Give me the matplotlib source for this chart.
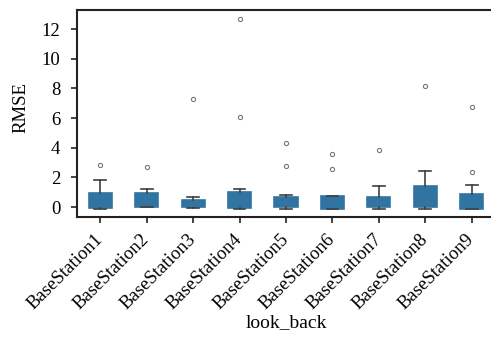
import matplotlib as mpl
mpl.use('Agg')
import matplotlib.pyplot as plt
import matplotlib.transforms as mtransforms

plt.rcParams['font.family'] = ['Liberation Serif', 'DejaVu Serif']

stations = ['BaseStation%d' % i for i in range(1, 10)]
# box stats
q1 = [-0.05, 0.02, -0.02, -0.07, 0.02, -0.13, -0.02, -0.02, -0.13]
q3 = [0.92, 0.92, 0.47, 0.99, 0.69, 0.74, 0.67, 1.42, 0.88]
med = [0.15, 0.2, 0.1, 0.2, 0.2, 0.1, 0.15, 0.3, 0.2]
whislo = [-0.1, 0.0, -0.07, -0.1, -0.11, -0.13, -0.13, -0.11, -0.13]
whishi = [1.82, 1.23, 0.7, 1.23, 0.8, 0.74, 1.39, 2.45, 1.48]
fliers = [[2.85], [2.72], [7.28], [12.66, 6.09], [4.34, 2.79],
          [3.57, 2.54], [3.82], [8.18], [6.74, 2.34]]

stats = []
for i, name in enumerate(stations):
  stats.append(dict(label=name, q1=q1[i], q3=q3[i], med=med[i],
                    whislo=whislo[i], whishi=whishi[i], fliers=fliers[i]))

fig = plt.figure(figsize=(4.91, 3.42), dpi=100)
ax = fig.add_axes([0.157, 0.3655, 0.851, 0.605])

box_c = '#3274a1'
line_c = '#3f3f3f'
ax.bxp(stats, positions=range(len(stations)), widths=0.5, patch_artist=True,
       boxprops=dict(facecolor=box_c, edgecolor=box_c, linewidth=1.2),
       medianprops=dict(color=box_c, linewidth=1.2),
       whiskerprops=dict(color=line_c, linewidth=1.2),
       capprops=dict(color=line_c, linewidth=1.2),
       flierprops=dict(marker='o', markersize=3, markerfacecolor='none',
                       markeredgecolor='#777777', markeredgewidth=0.8))

ax.set_xlim(-0.5, 8.5)
ax.set_ylim(-0.67, 13.28)
ax.set_yticks([0, 2, 4, 6, 8, 10, 12])
ax.set_xticks(range(len(stations)))
ax.set_xticklabels(stations, rotation=45, ha='right', fontsize=13.5)
ax.tick_params(axis='y', labelsize=13.5, pad=8)
ax.tick_params(axis='x', pad=6)
ax.tick_params(width=1.2, length=4, color='#222222')
shift = mtransforms.ScaledTranslation(0.06, 0, fig.dpi_scale_trans)
for lab in ax.get_xticklabels():
  lab.set_transform(lab.get_transform() + shift)
for s in ax.spines.values():
  s.set_linewidth(1.5)
  s.set_color('#222222')
ax.set_xlabel('look_back', fontsize=14)
ax.set_ylabel('RMSE', fontsize=13.5)
ax.xaxis.set_label_coords(0.5, -0.47)
ax.yaxis.set_label_coords(-0.115, 0.527)

fig.savefig('out.png', dpi=100)
